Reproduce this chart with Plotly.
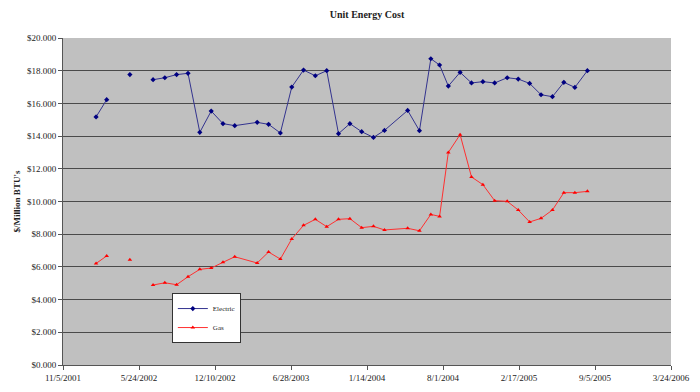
import plotly.graph_objects as go

dates = ["2002-01-31", "2002-02-28", "2002-03-31", "2002-04-30", "2002-05-31",
         "2002-06-30", "2002-07-31", "2002-08-31", "2002-09-30", "2002-10-31",
         "2002-11-30", "2002-12-31", "2003-01-31", "2003-03-31", "2003-04-30",
         "2003-05-31", "2003-06-30", "2003-07-31", "2003-08-31", "2003-09-30",
         "2003-10-31", "2003-11-30", "2003-12-31", "2004-01-31", "2004-02-29",
         "2004-04-30", "2004-05-31", "2004-06-30", "2004-07-23", "2004-08-15",
         "2004-09-15", "2004-10-15", "2004-11-14", "2004-12-15", "2005-01-17",
         "2005-02-15", "2005-03-17", "2005-04-16", "2005-05-16", "2005-06-15",
         "2005-07-14", "2005-08-16"]

electric = [15.17, 16.23, None, 17.76, None,
            17.45, 17.57, 17.76, 17.84, 14.23,
            15.53, 14.76, 14.64, 14.84, 14.72,
            14.19, 17.00, 18.04, 17.69, 18.00,
            14.15, 14.76, 14.27, 13.92, 14.35,
            15.57, 14.33, 18.73, 18.35, 17.06,
            17.90, 17.25, 17.33, 17.25, 17.57,
            17.49, 17.22, 16.53, 16.41, 17.29,
            16.98, 18.00]

gas = [6.21, 6.67, None, 6.44, None,
       4.89, 5.03, 4.91, 5.40, 5.85,
       5.93, 6.28, 6.62, 6.24, 6.91,
       6.48, 7.71, 8.54, 8.91, 8.46,
       8.91, 8.95, 8.40, 8.48, 8.26,
       8.36, 8.21, 9.21, 9.09, 13.00,
       14.09, 11.50, 11.03, 10.05, 10.01,
       9.48, 8.75, 8.97, 9.48, 10.54,
       10.54, 10.62]

x_tick_dates = ["2001-11-05", "2002-05-24", "2002-12-10", "2003-06-28", "2004-01-14",
                "2004-08-01", "2005-02-17", "2005-09-05", "2006-03-24"]
x_tick_labels = ["11/5/2001", "5/24/2002", "12/10/2002", "6/28/2003", "1/14/2004",
                 "8/1/2004", "2/17/2005", "9/5/2005", "3/24/2006"]

y_ticks = [0, 2, 4, 6, 8, 10, 12, 14, 16, 18, 20]

serif = "Liberation Serif, Times New Roman, serif"

# The page body has an 8px margin on every side; keep the figure inside it
W, H = 684, 376

fig = go.Figure()
fig.add_trace(go.Scatter(
    x=dates, y=electric, name="Electric", mode="lines+markers",
    line=dict(color="#33338f", width=1),
    marker=dict(symbol="diamond", size=4, color="#000080"),
    connectgaps=False,
))
fig.add_trace(go.Scatter(
    x=dates, y=gas, name="Gas", mode="lines+markers",
    line=dict(color="#ff3030", width=1),
    marker=dict(symbol="triangle-up", size=4, color="#ff0000"),
    connectgaps=False,
))

fig.update_layout(
    width=W, height=H,
    margin=dict(l=55, r=21, t=30, b=19, autoexpand=False),
    paper_bgcolor="white",
    plot_bgcolor="#c0c0c0",
    font=dict(family=serif, size=9, color="#222222"),
    title=dict(text="<b>Unit Energy Cost</b>", x=359 / W, xanchor="center",
               y=1 - 6 / H, yanchor="middle",
               font=dict(family=serif, size=10, color="#222222")),
    showlegend=True,
    legend=dict(x=0.179, y=0.22, xanchor="left", yanchor="top",
                bgcolor="white", bordercolor="#333333", borderwidth=1,
                font=dict(family=serif, size=7, color="#222222"),
                itemwidth=30, tracegroupgap=0),
    xaxis=dict(
        type="date", automargin=False,
        range=["2001-11-05", "2006-03-24"],
        tickmode="array", tickvals=x_tick_dates, ticktext=x_tick_labels,
        showgrid=False, zeroline=False,
        showline=True, linecolor="#555555", linewidth=1,
        ticks="outside", ticklen=4, tickcolor="#555555",
        tickfont=dict(family=serif, size=9, color="#222222"),
    ),
    yaxis=dict(
        range=[0, 20], automargin=False,
        tickmode="array", tickvals=y_ticks, tickformat="$.3f",
        showgrid=True, gridcolor="#4a4a4a", gridwidth=1,
        zeroline=False,
        showline=True, linecolor="#555555", linewidth=1,
        ticks="outside", ticklen=4, tickcolor="#555555",
        tickfont=dict(family=serif, size=9, color="#222222"),
        title=dict(text="<b>$/Million BTU's</b>", standoff=4,
                   font=dict(family=serif, size=9, color="#222222")),
    ),
)

fig.write_html("out.html")
